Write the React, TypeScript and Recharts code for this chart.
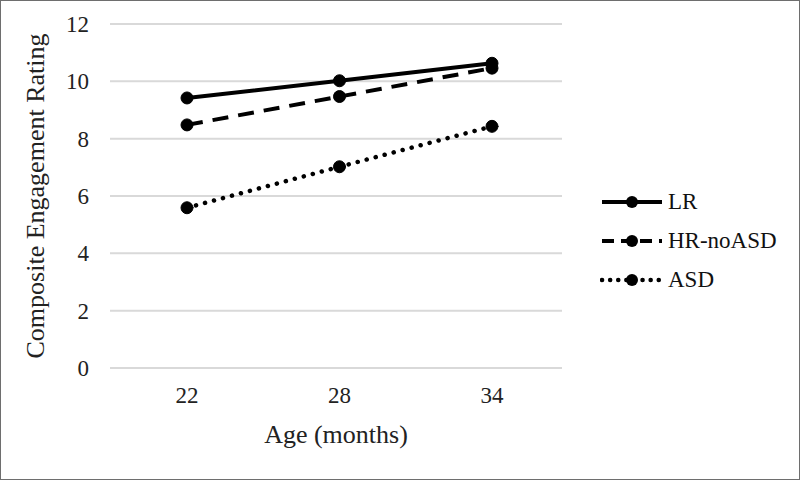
import React from "react";
import {
  LineChart,
  Line,
  XAxis,
  YAxis,
  CartesianGrid,
  Label,
} from "recharts";

// ages on the x axis (months)
const ages = ["22", "28", "34"];
// composite engagement rating by group
const lrValues = [9.42, 10.02, 10.63];
const hrNoAsdValues = [8.48, 9.47, 10.46];
const asdValues = [5.59, 7.02, 8.43];
const yTicks = [0, 2, 4, 6, 8, 10, 12];

const data = ages.map((age, i) => ({
  age,
  LR: lrValues[i],
  "HR-noASD": hrNoAsdValues[i],
  ASD: asdValues[i],
}));

const FONT = "Liberation Serif";

const series = [
  { key: "LR", dash: undefined as string | undefined, legendDash: undefined as string | undefined, width: 4, cap: "butt" },
  { key: "HR-noASD", dash: "16 10", legendDash: "12 7", width: 4, cap: "butt" },
  { key: "ASD", dash: "0.1 9.2", legendDash: "0.1 8", width: 4.5, cap: "round" },
];

const LegendBox = () => (
  <div
    style={{
      position: "absolute",
      left: 600,
      top: 182,
      fontFamily: FONT,
      fontSize: 23,
      color: "#111",
    }}
  >
    {series.map((s) => (
      <div
        key={s.key}
        style={{ display: "flex", alignItems: "center", height: 39 }}
      >
        <svg width={66} height={20} style={{ marginRight: 2 }}>
          <line
            x1={2}
            x2={62}
            y1={10}
            y2={10}
            stroke="#000"
            strokeWidth={s.width}
            strokeDasharray={s.legendDash}
            strokeLinecap={s.cap as any}
          />
          <circle cx={32} cy={10} r={6} fill="#000" />
        </svg>
        <span>{s.key}</span>
      </div>
    ))}
  </div>
);

export default function App() {
  return (
    <div
      style={{
        position: "fixed",
        top: 0,
        left: 0,
        width: 800,
        height: 480,
        background: "#fff",
        fontFamily: FONT,
      }}
    >
      <LineChart
        width={800}
        height={480}
        data={data}
        margin={{ top: 24, right: 238, bottom: 0, left: 0 }}
        style={{ fontFamily: FONT }}
      >
        <CartesianGrid vertical={false} stroke="#d9d9d9" strokeWidth={2} />
        <XAxis
          dataKey="age"
          height={112}
          padding={{ left: 77, right: 70 }}
          axisLine={false}
          tickLine={false}
          tickMargin={13}
          tick={{ fontSize: 23, fill: "#222", fontFamily: FONT }}
        >
          <Label
            value="Age (months)"
            position="insideBottom"
            offset={37}
            style={{ fontSize: 26, fill: "#222", fontFamily: FONT }}
          />
        </XAxis>
        <YAxis
          width={110}
          domain={[0, 12]}
          ticks={yTicks}
          axisLine={false}
          tickLine={false}
          tickMargin={15}
          tick={{ fontSize: 23, fill: "#222", fontFamily: FONT }}
        >
          <Label
            content={({ viewBox }: any) => {
              const cx = viewBox.x + 44;
              const cy = viewBox.y + viewBox.height / 2;
              return (
                <text
                  x={cx}
                  y={cy}
                  transform={`rotate(-90 ${cx} ${cy})`}
                  textAnchor="middle"
                  fontSize={26}
                  fill="#222"
                  fontFamily={FONT}
                >
                  Composite Engagement Rating
                </text>
              );
            }}
          />
        </YAxis>
        {series.map((s) => (
          <Line
            key={s.key}
            dataKey={s.key}
            stroke="#000"
            strokeWidth={s.width}
            strokeDasharray={s.dash}
            strokeLinecap={s.cap as any}
            dot={{ r: 6, fill: "#000", stroke: "#000", strokeWidth: 1, strokeDasharray: "none" }}
            activeDot={false}
            isAnimationActive={false}
          />
        ))}
      </LineChart>
      <LegendBox />
      <div
        style={{
          position: "absolute",
          inset: 0,
          border: "1px solid #6e6e6e",
          boxSizing: "border-box",
          pointerEvents: "none",
        }}
      />
    </div>
  );
}
